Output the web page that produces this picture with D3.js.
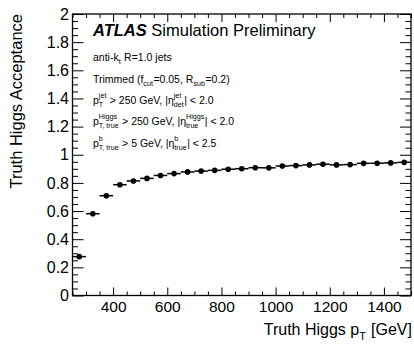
<!DOCTYPE html>
<html>
<head>
<meta charset="utf-8">
<script src="https://cdn.jsdelivr.net/npm/d3@7"></script>
<style>
  html, body { margin: 0; padding: 0; background: #fff; }
  svg { display: block; font-family: "Liberation Sans", Arial, Helvetica, sans-serif; }
  text { white-space: pre; }
</style>
</head>
<body>
<div id="chart"></div>
<script>
// ── Data ──────────────────────────────────────
const ptCenters = [275, 325, 375, 425, 475, 525, 575, 625, 675, 725, 775, 825, 875,
                   925, 975, 1025, 1075, 1125, 1175, 1225, 1275, 1325, 1375, 1425, 1475];
const binHalfWidth = 25;
const acceptance = [0.276, 0.581, 0.709, 0.787, 0.814, 0.832, 0.853, 0.866, 0.878, 0.884,
                    0.889, 0.897, 0.901, 0.908, 0.907, 0.920, 0.923, 0.928, 0.933, 0.928,
                    0.930, 0.939, 0.940, 0.942, 0.946];

const xMajorTicks = [400, 600, 800, 1000, 1200, 1400];
const yMajorTicks = [0, 0.2, 0.4, 0.6, 0.8, 1, 1.2, 1.4, 1.6, 1.8, 2];

const infoLines = [
  ["anti-k", { sub: "t" }, " R=1.0 jets"],
  ["Trimmed (f", { sub: "cut" }, "=0.05, R", { sub: "sub" }, "=0.2)"],
  ["p", { sup: "jet", sub: "T" }, " > 250 GeV, |η", { sup: "jet", sub: "det" }, "| < 2.0"],
  ["p", { sup: "Higgs", sub: "T, true" }, " > 250 GeV, |η", { sup: "Higgs", sub: "true" }, "| < 2.0"],
  ["p", { sup: "b", sub: "T, true" }, " > 5 GeV, |η", { sup: "b", sub: "true" }, "| < 2.5"]
];
const infoBaselines = [61, 82.5, 103.5, 124.5, 146.5];

// ── Layout ────────────────────────────────────
const W = 414, H = 345;
const plot = { left: 72.5, right: 411, top: 14, bottom: 295.5 };

const x = d3.scaleLinear().domain([250, 1500]).range([plot.left, plot.right]);
const y = d3.scaleLinear().domain([0, 2]).range([plot.bottom, plot.top]);

const xMinorTicks = d3.range(250, 1501, 50).filter(v => !xMajorTicks.includes(v));
const yMinorTicks = d3.range(0, 2.001, 0.05).map(v => +v.toFixed(2))
  .filter(v => !yMajorTicks.some(m => Math.abs(m - v) < 1e-6));

const svg = d3.select("#chart").append("svg")
  .attr("width", W)
  .attr("height", H);

// ── Axes (ticks on all four sides, ROOT style) ─
function styleAxis(g) {
  g.select(".domain").remove();
  g.selectAll(".tick line").attr("stroke", "#000").attr("stroke-width", 1);
}

const fmtY = d => String(+d.toFixed(1));

svg.append("g")
  .attr("transform", `translate(0,${plot.bottom})`)
  .call(d3.axisBottom(x).tickValues(xMajorTicks).tickSize(-8).tickPadding(5.5).tickFormat(d3.format("d")))
  .call(styleAxis)
  .call(g => g.selectAll(".tick text")
    .attr("fill", "#000").attr("font-size", "15.5px")
    .attr("font-family", "'Liberation Sans', Arial, sans-serif"));

svg.append("g")
  .attr("transform", `translate(0,${plot.bottom})`)
  .call(d3.axisBottom(x).tickValues(xMinorTicks).tickSize(-4).tickFormat(""))
  .call(styleAxis);

svg.append("g")
  .attr("transform", `translate(0,${plot.top})`)
  .call(d3.axisTop(x).tickValues(xMajorTicks).tickSize(-8).tickFormat(""))
  .call(styleAxis);

svg.append("g")
  .attr("transform", `translate(0,${plot.top})`)
  .call(d3.axisTop(x).tickValues(xMinorTicks).tickSize(-4).tickFormat(""))
  .call(styleAxis);

svg.append("g")
  .attr("transform", `translate(${plot.left},0)`)
  .call(d3.axisLeft(y).tickValues(yMajorTicks).tickSize(-11).tickFormat(fmtY))
  .call(styleAxis)
  .call(g => g.selectAll(".tick text")
    .attr("fill", "#000").attr("font-size", "16px")
    .attr("x", -3.5)
    .attr("font-family", "'Liberation Sans', Arial, sans-serif"));

svg.append("g")
  .attr("transform", `translate(${plot.left},0)`)
  .call(d3.axisLeft(y).tickValues(yMinorTicks).tickSize(-5.5).tickFormat(""))
  .call(styleAxis);

svg.append("g")
  .attr("transform", `translate(${plot.right},0)`)
  .call(d3.axisRight(y).tickValues(yMajorTicks).tickSize(-11).tickFormat(""))
  .call(styleAxis);

svg.append("g")
  .attr("transform", `translate(${plot.right},0)`)
  .call(d3.axisRight(y).tickValues(yMinorTicks).tickSize(-5.5).tickFormat(""))
  .call(styleAxis);

// ── Frame ─────────────────────────────────────
svg.append("rect")
  .attr("x", plot.left).attr("y", plot.top)
  .attr("width", plot.right - plot.left)
  .attr("height", plot.bottom - plot.top)
  .attr("fill", "none")
  .attr("stroke", "#000")
  .attr("stroke-width", 1.3);

// ── Data points with bin-width bars ───────────
const points = ptCenters.map((c, i) => ({ c, v: acceptance[i] }));

svg.append("g").selectAll("line")
  .data(points)
  .join("line")
  .attr("x1", d => x(Math.max(250, d.c - binHalfWidth)))
  .attr("x2", d => x(d.c + binHalfWidth))
  .attr("y1", d => y(d.v)).attr("y2", d => y(d.v))
  .attr("stroke", "#000")
  .attr("stroke-width", 1.5);

svg.append("g").selectAll("circle")
  .data(points)
  .join("circle")
  .attr("cx", d => x(d.c))
  .attr("cy", d => y(d.v))
  .attr("r", 2.8)
  .attr("fill", "#000");

// ── Rich text helper (stacked sub/sup like ROOT TLatex) ─
function richText(parent, x0, y0, parts, fs) {
  const small = fs * 0.68;
  let cx = x0;
  parts.forEach(p => {
    if (typeof p === "string") {
      const t = parent.append("text")
        .attr("x", cx).attr("y", y0)
        .attr("font-size", `${fs}px`)
        .text(p);
      cx += t.node().getComputedTextLength();
    } else {
      let w = 0;
      if (p.sup) {
        const t = parent.append("text")
          .attr("x", cx).attr("y", y0 - fs * 0.48)
          .attr("font-size", `${small}px`)
          .text(p.sup);
        w = Math.max(w, t.node().getComputedTextLength());
      }
      if (p.sub) {
        const t = parent.append("text")
          .attr("x", cx).attr("y", y0 + fs * 0.3)
          .attr("font-size", `${small}px`)
          .text(p.sub);
        w = Math.max(w, t.node().getComputedTextLength());
      }
      cx += w + fs * 0.05;
    }
  });
  return cx - x0;
}

// ── ATLAS label and selection info ────────────
const atlas = svg.append("text")
  .attr("x", 93).attr("y", 36)
  .attr("font-size", "16.5px");
atlas.append("tspan").attr("font-weight", "bold").attr("font-style", "italic").text("ATLAS");
atlas.append("tspan").text(" Simulation Preliminary");

const info = svg.append("g").attr("fill", "#000");
infoLines.forEach((line, i) => richText(info, 93, infoBaselines[i], line, 10.5));

// ── Axis titles ───────────────────────────────
const xTitle = svg.append("g");
const xTitleW = richText(xTitle, 0, 0, ["Truth Higgs p", { sub: "T" }, " [GeV]"], 16);
xTitle.attr("transform", `translate(${412 - xTitleW},335)`);

svg.append("text")
  .attr("transform", "translate(22,14) rotate(-90)")
  .attr("text-anchor", "end")
  .attr("font-size", "16.5px")
  .text("Truth Higgs Acceptance");
</script>
</body>
</html>
